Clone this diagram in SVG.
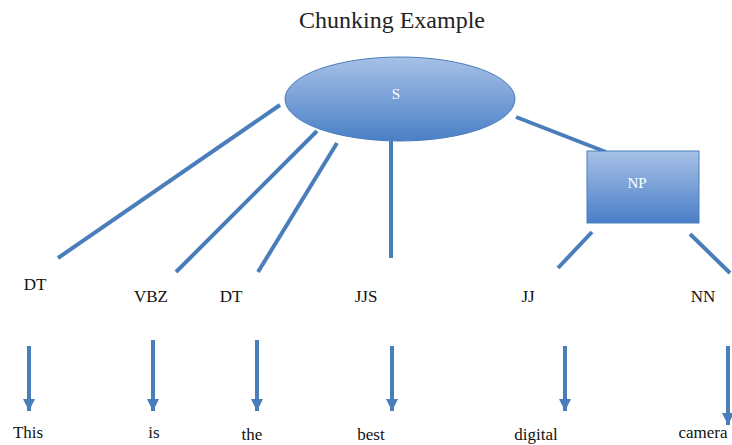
<svg xmlns="http://www.w3.org/2000/svg" width="732" height="445" viewBox="0 0 732 445">
<defs>
<linearGradient id="g" x1="0" y1="0" x2="0" y2="1">
<stop offset="0" stop-color="#a7c1e6"/>
<stop offset="1" stop-color="#4a7fc8"/>
</linearGradient>
<marker id="ah" viewBox="0 0 10 10" refX="10" refY="5" markerWidth="3" markerHeight="3" orient="auto" markerUnits="strokeWidth">
<path d="M0,0 L10,5 L0,10 z" fill="#4a7ebb"/>
</marker>
<style>
.ln{stroke:#4a7ebb;stroke-width:4;fill:none}
.ar{stroke:#4a7ebb;stroke-width:4;fill:none;marker-end:url(#ah)}
.t{font-family:"Liberation Serif","DejaVu Serif",serif;font-size:17px;fill:#111}
.w{font-family:"Liberation Serif","DejaVu Serif",serif;font-size:15px;fill:#fff}
.shape{fill:url(#g);stroke:#4a7ebb;stroke-width:1}
</style>
</defs>
<rect width="732" height="445" fill="#fff"/>
<text x="392" y="28" text-anchor="middle" font-family="Liberation Serif, DejaVu Serif, serif" font-size="24" fill="#222">Chunking Example</text>
<g id="connectors">
<line class="ln" x1="280" y1="105" x2="58" y2="258"/>
<line class="ln" x1="317" y1="131" x2="176" y2="272"/>
<line class="ln" x1="337" y1="143" x2="258" y2="272"/>
<line class="ln" x1="391" y1="141" x2="391" y2="258"/>
<line class="ln" x1="516" y1="117" x2="606" y2="152"/>
<line class="ln" x1="592" y1="232" x2="558" y2="268"/>
<line class="ln" x1="690" y1="234" x2="730" y2="273"/>
<line class="ar" x1="29" y1="346" x2="29" y2="411"/>
<line class="ar" x1="153" y1="340" x2="153" y2="411"/>
<line class="ar" x1="257" y1="340" x2="257" y2="411"/>
<line class="ar" x1="392" y1="346" x2="392" y2="411"/>
<line class="ar" x1="565" y1="346" x2="565" y2="411"/>
<line class="ar" x1="728" y1="346" x2="728" y2="425"/>
</g>
<g id="S">
<ellipse class="shape" cx="400" cy="99" rx="115" ry="42"/>
<text class="w" x="396" y="99" text-anchor="middle">S</text>
</g>
<g id="NP">
<rect class="shape" x="587" y="151" width="112" height="72"/>
<text class="w" x="637" y="188" text-anchor="middle">NP</text>
</g>
<g id="tags">
<text class="t" x="35" y="290" text-anchor="middle">DT</text>
<text class="t" x="151" y="302" text-anchor="middle">VBZ</text>
<text class="t" x="231" y="302" text-anchor="middle">DT</text>
<text class="t" x="366" y="302" text-anchor="middle">JJS</text>
<text class="t" x="528" y="302" text-anchor="middle">JJ</text>
<text class="t" x="703" y="302" text-anchor="middle">NN</text>
</g>
<g id="words">
<text class="t" x="28" y="438" text-anchor="middle">This</text>
<text class="t" x="154" y="438" text-anchor="middle">is</text>
<text class="t" x="252" y="440" text-anchor="middle">the</text>
<text class="t" x="371" y="440" text-anchor="middle">best</text>
<text class="t" x="536" y="440" text-anchor="middle">digital</text>
<text class="t" x="703" y="438" text-anchor="middle">camera</text>
</g>
</svg>
